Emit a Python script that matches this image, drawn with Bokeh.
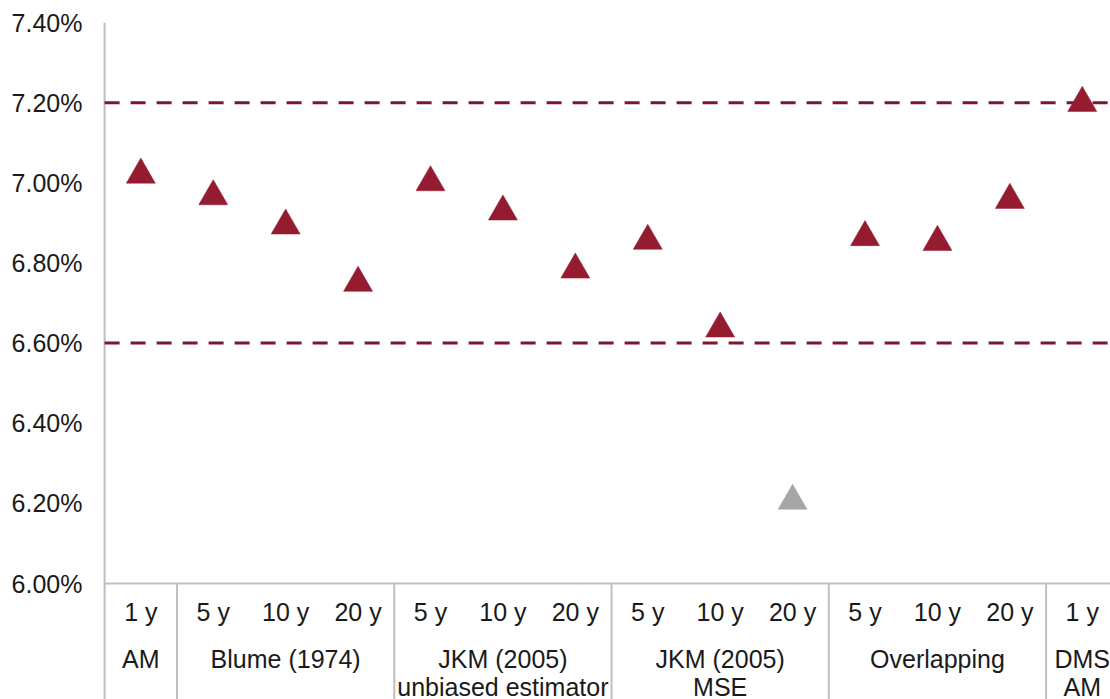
from bokeh.plotting import figure
from bokeh.models import Range1d, FixedTicker, PrintfTickFormatter, ColumnDataSource
from bokeh.embed import file_html
from bokeh.resources import INLINE
from bokeh.core.properties import value

# ---- data ----
groups = ["AM", "Blume (1974)", "JKM (2005)\nunbiased estimator", "JKM (2005)\nMSE", "Overlapping", "DMS\nAM"]
group_sizes = [1, 3, 3, 3, 3, 1]
horizons = ["1 y", "5 y", "10 y", "20 y", "5 y", "10 y", "20 y", "5 y", "10 y", "20 y", "5 y", "10 y", "20 y", "1 y"]
values = [7.020, 6.966, 6.893, 6.750, 7.001, 6.928, 6.783, 6.855, 6.636, 6.206, 6.864, 6.852, 6.957, 7.199]
greyed = [False, False, False, False, False, False, False, False, False, True, False, False, False, False]
y_ticks = [6.00, 6.20, 6.40, 6.60, 6.80, 7.00, 7.20, 7.40]
bounds = [6.60, 7.20]

# ---- styling / layout ----
MAROON = "#951B31"
GREY_MK = "#A6A6A6"
DASH = "#7B1730"
AXIS_GREY = "#BFBFBF"
FONT = "Liberation Sans"
TXT = "#1A1A1A"
FS = "25px"

W, H = 1110, 699
frame_left, frame_top = 98, 22
px_cat = 72.42
axis_px = 104.1
x_start = -0.5 - (axis_px - frame_left) / px_cat
x_end = x_start + (W - frame_left) / px_cat
y_top = 7.40
px_unit = (583 - 22) / 1.4
y_bottom = y_top - (H - frame_top) / px_unit

def py(v):
    return y_top - (v - frame_top) / px_unit

p = figure(width=W, height=H, output_backend="svg", toolbar_location=None,
           x_range=Range1d(x_start, x_end), y_range=Range1d(y_bottom, y_top),
           x_axis_location=None, min_border_left=frame_left, min_border_top=frame_top,
           min_border_right=0, min_border_bottom=0)
p.outline_line_color = None
p.xgrid.visible = False
p.ygrid.visible = False
p.background_fill_color = "white"
p.border_fill_color = "white"

ax = p.yaxis[0]
ax.ticker = FixedTicker(ticks=y_ticks)
ax.formatter = PrintfTickFormatter(format="%.2f%%")
ax.axis_line_color = None
ax.major_tick_line_color = None
ax.minor_tick_line_color = None
ax.major_label_text_font = FONT
ax.major_label_text_font_size = FS
ax.major_label_text_color = TXT
ax.major_label_standoff = 10

n = len(values)
xs = list(range(n))

# axis frame lines
p.segment(x0=[-0.5], y0=[y_bottom], x1=[-0.5], y1=[y_top], line_color=AXIS_GREY, line_width=2)
p.segment(x0=[-0.5], y0=[y_ticks[0]], x1=[x_end], y1=[y_ticks[0]], line_color=AXIS_GREY, line_width=2)

# group separators
seps = []
acc = 0
for s in group_sizes[:-1]:
    acc += s
    seps.append(acc - 0.5)
p.segment(x0=seps, y0=[y_bottom] * len(seps), x1=seps, y1=[y_ticks[0]] * len(seps),
          line_color=AXIS_GREY, line_width=2)

# dashed bounds
p.segment(x0=[-0.5] * len(bounds), y0=bounds, x1=[x_end] * len(bounds), y1=bounds,
          line_color=DASH, line_width=3, line_dash="15 11")

# markers
colors = [GREY_MK if g else MAROON for g in greyed]
src = ColumnDataSource(dict(x=xs, y=values, c=colors))
p.scatter("x", "y", source=src, marker="triangle", size=29, fill_color="c", line_color="c", line_width=0.5)

# horizon labels
p.text(x=xs, y=[py(611)] * n, text=horizons, text_align="center", text_baseline="middle",
       text_font=value(FONT), text_font_size=FS, text_color=TXT)

# group labels
centers = []
acc = 0
for s in group_sizes:
    centers.append(acc + (s - 1) / 2)
    acc += s
line1 = [g.split("\n")[0] for g in groups]
line2 = [g.split("\n")[1] if "\n" in g else "" for g in groups]
p.text(x=centers, y=[py(658)] * len(groups), text=line1, text_align="center", text_baseline="middle",
       text_font=value(FONT), text_font_size=FS, text_color=TXT)
p.text(x=centers, y=[py(686)] * len(groups), text=line2, text_align="center", text_baseline="middle",
       text_font=value(FONT), text_font_size=FS, text_color=TXT)

open("out.html", "w").write(file_html(p, INLINE))
